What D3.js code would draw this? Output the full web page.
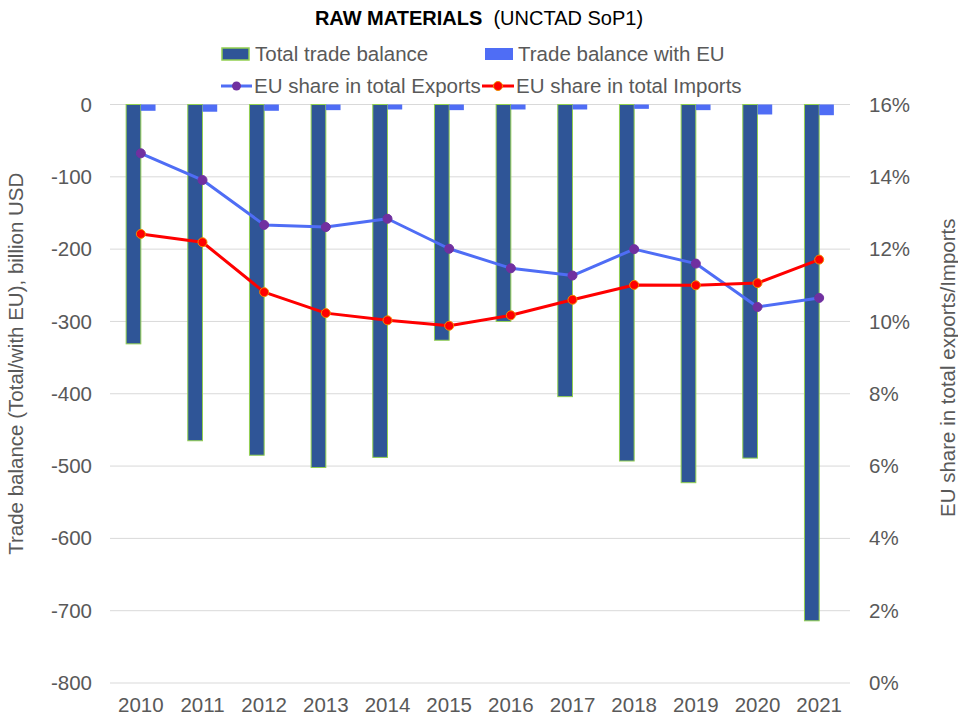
<!DOCTYPE html>
<html>
<head>
<meta charset="utf-8">
<script src="https://cdn.jsdelivr.net/npm/d3@7"></script>
<style>
  body { margin: 0; background: #fff; }
  svg text { font-family: "Liberation Sans", Arial, sans-serif; }
</style>
</head>
<body>
<div id="chart"></div>
<script>
// Chart data
const years = ['2010', '2011', '2012', '2013', '2014', '2015', '2016', '2017', '2018', '2019', '2020', '2021'];
const totalBalance = [-331, -465, -485, -502, -488, -326, -300, -404, -493, -523, -489, -714];
const euBalance = [-8.7, -10, -8.7, -7.8, -6.9, -7.8, -6.9, -6.9, -6, -7.8, -13.8, -14.8];
const euShareExports = [14.65, 13.91, 12.67, 12.61, 12.84, 12.01, 11.47, 11.27, 12.0, 11.6, 10.4, 10.65];
const euShareImports = [12.42, 12.19, 10.81, 10.23, 10.03, 9.88, 10.17, 10.6, 11.01, 11.0, 11.06, 11.71];
const leftTicks = [0, -100, -200, -300, -400, -500, -600, -700, -800];
const rightTicks = [0, 2, 4, 6, 8, 10, 12, 14, 16];

const W = 958, H = 720;
const plot = { left: 110, right: 850, top: 104.5, bottom: 683 };
const fontSize = '20.5px';

const svg = d3.select('#chart')
  .append('svg')
  .attr('width', W)
  .attr('height', H);

// Scales
const x = d3.scaleBand()
  .domain(years)
  .range([plot.left, plot.right])
  .paddingInner(0.523)
  .paddingOuter(0.2615);

const xSub = d3.scaleBand()
  .domain(['total', 'eu'])
  .range([0, x.bandwidth()]);

const yLeft = d3.scaleLinear()
  .domain([-800, 0])
  .range([plot.bottom, plot.top]);

const yRight = d3.scaleLinear()
  .domain([0, 16])
  .range([plot.bottom, plot.top]);

const textColor = '#595959';

// Gridlines
svg.append('g')
  .selectAll('line')
  .data(leftTicks)
  .enter()
  .append('line')
  .attr('x1', plot.left)
  .attr('x2', plot.right)
  .attr('y1', d => yLeft(d))
  .attr('y2', d => yLeft(d))
  .attr('stroke', '#d9d9d9')
  .attr('stroke-width', 1);

// Left axis
const leftAxis = svg.append('g')
  .attr('transform', `translate(${plot.left},0)`)
  .call(d3.axisLeft(yLeft).tickValues(leftTicks).tickSize(0).tickPadding(18).tickFormat(d => String(d)));
leftAxis.select('.domain').remove();
leftAxis.selectAll('text')
  .attr('fill', textColor)
  .style('font-size', fontSize);

// Right axis
const rightAxis = svg.append('g')
  .attr('transform', `translate(${plot.right},0)`)
  .call(d3.axisRight(yRight).tickValues(rightTicks).tickSize(0).tickPadding(19).tickFormat(d => d + '%'));
rightAxis.select('.domain').remove();
rightAxis.selectAll('text')
  .attr('fill', textColor)
  .style('font-size', fontSize);

// Bottom axis
const bottomAxis = svg.append('g')
  .attr('transform', `translate(0,${plot.bottom})`)
  .call(d3.axisBottom(x).tickSize(0).tickPadding(14));
bottomAxis.select('.domain').remove();
bottomAxis.selectAll('text')
  .attr('fill', textColor)
  .style('font-size', fontSize);

// Bars: total trade balance
svg.append('g')
  .selectAll('rect')
  .data(years)
  .enter()
  .append('rect')
  .attr('x', d => x(d) + xSub('total'))
  .attr('y', yLeft(0))
  .attr('width', xSub.bandwidth())
  .attr('height', (d, i) => yLeft(totalBalance[i]) - yLeft(0))
  .attr('fill', '#2f5597')
  .attr('stroke', '#92d050')
  .attr('stroke-width', 1);

// Bars: trade balance with EU
svg.append('g')
  .selectAll('rect')
  .data(years)
  .enter()
  .append('rect')
  .attr('x', d => x(d) + xSub('eu'))
  .attr('y', yLeft(0))
  .attr('width', xSub.bandwidth())
  .attr('height', (d, i) => yLeft(euBalance[i]) - yLeft(0))
  .attr('fill', '#4f6df5');

// Lines
const cx = d => x(d) + x.bandwidth() / 2;

function drawLine(values, lineColor, dotFill, dotStroke) {
  const line = d3.line()
    .x((d, i) => cx(years[i]))
    .y(d => yRight(d));
  svg.append('path')
    .datum(values)
    .attr('d', line)
    .attr('fill', 'none')
    .attr('stroke', lineColor)
    .attr('stroke-width', 3)
    .attr('stroke-linejoin', 'round');
  svg.append('g')
    .selectAll('circle')
    .data(values)
    .enter()
    .append('circle')
    .attr('cx', (d, i) => cx(years[i]))
    .attr('cy', d => yRight(d))
    .attr('r', 4.5)
    .attr('fill', dotFill)
    .attr('stroke', dotStroke)
    .attr('stroke-width', 1);
}

drawLine(euShareExports, '#4f6df5', '#7030a0', '#7030a0');
drawLine(euShareImports, '#ff0000', '#ff0000', '#f08a00');

// Title
const title = svg.append('text')
  .attr('x', 479)
  .attr('y', 25)
  .attr('text-anchor', 'middle')
  .attr('fill', '#000')
  .style('font-size', '20px');
title.append('tspan').attr('font-weight', 'bold').text('RAW MATERIALS');
title.append('tspan').text('\u00a0 (UNCTAD SoP1)');

// Legend
const legend = svg.append('g');

legend.append('rect')
  .attr('x', 222).attr('y', 48).attr('width', 27).attr('height', 12)
  .attr('fill', '#2f5597').attr('stroke', '#92d050').attr('stroke-width', 1.5);
legend.append('text')
  .attr('x', 255).attr('y', 61)
  .attr('fill', textColor).style('font-size', fontSize)
  .text('Total trade balance');

legend.append('rect')
  .attr('x', 485).attr('y', 48).attr('width', 28).attr('height', 12)
  .attr('fill', '#4f6df5');
legend.append('text')
  .attr('x', 518).attr('y', 61)
  .attr('fill', textColor).style('font-size', fontSize)
  .text('Trade balance with EU');

legend.append('line')
  .attr('x1', 221).attr('x2', 252).attr('y1', 86).attr('y2', 86)
  .attr('stroke', '#4f6df5').attr('stroke-width', 3);
legend.append('circle')
  .attr('cx', 236.5).attr('cy', 86).attr('r', 4.5)
  .attr('fill', '#7030a0');
legend.append('text')
  .attr('x', 254).attr('y', 93)
  .attr('fill', textColor).style('font-size', fontSize)
  .text('EU share in total Exports');

legend.append('line')
  .attr('x1', 482).attr('x2', 514).attr('y1', 86).attr('y2', 86)
  .attr('stroke', '#ff0000').attr('stroke-width', 3);
legend.append('circle')
  .attr('cx', 498).attr('cy', 86).attr('r', 4.5)
  .attr('fill', '#ff0000').attr('stroke', '#f08a00').attr('stroke-width', 1);
legend.append('text')
  .attr('x', 516).attr('y', 93)
  .attr('fill', textColor).style('font-size', fontSize)
  .text('EU share in total Imports');

// Axis titles
svg.append('text')
  .attr('transform', `translate(23,${(plot.top + plot.bottom) / 2 - 30}) rotate(-90)`)
  .attr('text-anchor', 'middle')
  .attr('fill', textColor)
  .style('font-size', fontSize)
  .text('Trade balance (Total/with EU), billion USD');

svg.append('text')
  .attr('transform', `translate(955,${(plot.top + plot.bottom) / 2 - 26}) rotate(-90)`)
  .attr('text-anchor', 'middle')
  .attr('fill', textColor)
  .style('font-size', fontSize)
  .text('EU share in total exports/Imports');
</script>
</body>
</html>
